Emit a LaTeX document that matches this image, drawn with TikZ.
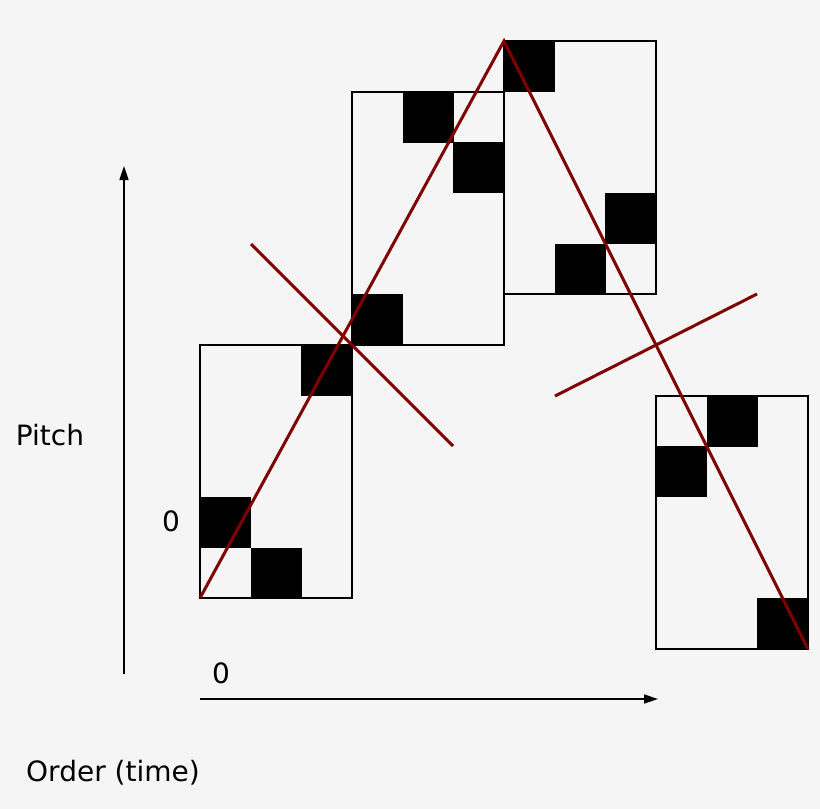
\documentclass[tikz,border=0pt]{standalone}
\usepackage{fontspec}
\setmainfont{DejaVu Sans}
\usetikzlibrary{arrows.meta}
\definecolor{bg}{HTML}{F5F5F5}
\definecolor{dred}{HTML}{800000}
\begin{document}
\begin{tikzpicture}[x=1pt,y=-1pt,
  box/.style={draw=black,line width=1.5pt},
  sq/.style={fill=black},
  red/.style={draw=dred,line width=3pt},
  ax/.style={line width=1.5pt,-{Triangle[length=14pt,width=9pt]}},
  lab/.style={font=\fontsize{28}{32}\selectfont,inner sep=0pt}]
\fill[bg] (0,0) rectangle (820,809);
\useasboundingbox (0,0) rectangle (820,809);
% squares
\foreach \x/\y in {200/497,251/548,301/345, 352/294,403/92,453/142, 504/41,555/244,605/193, 656/446,707/396,757/598}
  \fill[sq] (\x,\y) rectangle ++(50.6,50.6);
% boxes
\draw[box] (200,345) rectangle (352,598);
\draw[box] (352,92) rectangle (504,345);
\draw[box] (504,41) rectangle (656,294);
\draw[box] (656,396) rectangle (808,649);
% red lines
\coordinate (s) at (200,598); \coordinate (p) at (504,41); \coordinate (e) at (808,649);
\coordinate (c1a) at (251,244); \coordinate (c1b) at (453,446);
\coordinate (c2a) at (555,396); \coordinate (c2b) at (757,294);
\draw[red] (s) -- (p) -- (e);
\draw[red] (c1a) -- (c1b);
\draw[red] (c2a) -- (c2b);
% axes
\coordinate (v0) at (124,674); \coordinate (v1) at (124,166);
\coordinate (h0) at (200,699); \coordinate (h1) at (658,699);
\draw[ax] (v0) -- (v1);
\draw[ax] (h0) -- (h1);
\node[lab] (pitch) at (50,435) {Pitch};
\node[lab] (z1) at (171,521) {0};
\node[lab] (z2) at (221,673) {0};
\node[lab] (order) at (113,773) {Order (time)};
\end{tikzpicture}
\end{document}
